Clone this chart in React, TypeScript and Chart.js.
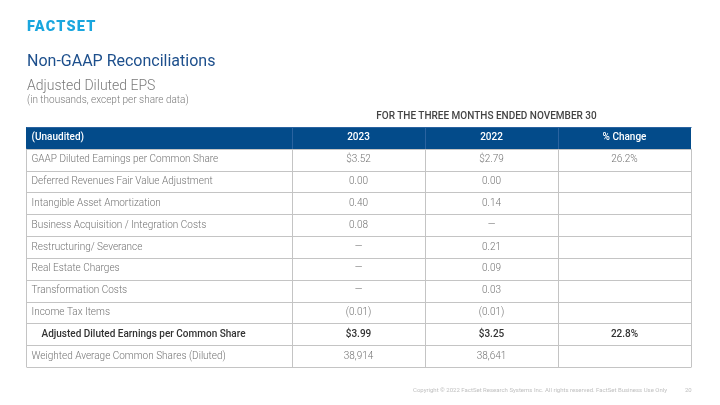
import React, { useEffect, useRef } from "react";
import { Chart, registerables } from "chart.js";

Chart.register(...registerables);

const headerLabels = ["(Unaudited)", "2023", "2022", "% Change"];
const rowLabels = [
  "GAAP Diluted Earnings per Common Share",
  "Deferred Revenues Fair Value Adjustment",
  "Intangible Asset Amortization",
  "Business Acquisition / Integration Costs",
  "Restructuring/ Severance",
  "Real Estate Charges",
  "Transformation Costs",
  "Income Tax Items",
  "Adjusted Diluted Earnings per Common Share",
  "Weighted Average Common Shares (Diluted)",
];
const values2023: (number | null)[] = [3.52, 0.0, 0.4, 0.08, null, null, null, -0.01, 3.99, 38914];
const values2022: (number | null)[] = [2.79, 0.0, 0.14, null, 0.21, 0.09, 0.03, -0.01, 3.25, 38641];
const pctChange: (number | null)[] = [26.2, null, null, null, null, null, null, null, 22.8, null];
const rowFormat = ["usd", "num", "num", "num", "num", "num", "num", "num", "usd", "int"];
const boldRows = [8];
// column spans in scale units: label col = 2, others = 1
const colEdges = [0, 2, 3, 4, 5];

function fmt(v: number | null, kind: string): string {
  if (v === null) return "\u2014";
  if (kind === "int") return v.toLocaleString("en-US");
  const s = Math.abs(v).toFixed(2);
  if (v < 0) return "(" + s + ")";
  return kind === "usd" ? "$" + s : s;
}

const FONT = "Roboto, 'Liberation Sans', sans-serif";

const tablePlugin = {
  id: "tablePlugin",
  afterDatasetsDraw(chart: any) {
    const ctx = chart.ctx;
    const x = chart.scales.x;
    const y = chart.scales.y;
    const area = chart.chartArea;
    const n = chart.data.labels.length;
    const xs = colEdges.map((e) => Math.round(x.getPixelForValue(e)) + 0.5);
    ctx.save();
    ctx.strokeStyle = "#c4c4c4";
    ctx.lineWidth = 1;
    for (let i = 1; i <= n; i++) {
      const yy = Math.round(y.getPixelForValue(i - 0.5)) + 0.5;
      ctx.beginPath();
      ctx.moveTo(xs[0], yy);
      ctx.lineTo(xs[4], yy);
      ctx.stroke();
    }
    const headerBottom = y.getPixelForValue(0.5);
    xs.forEach((px) => {
      ctx.beginPath();
      ctx.moveTo(px, headerBottom);
      ctx.lineTo(px, area.bottom);
      ctx.stroke();
    });
    ctx.strokeStyle = "#2a63a0";
    xs.slice(1, 4).forEach((px) => {
      ctx.beginPath();
      ctx.moveTo(px, area.top);
      ctx.lineTo(px, headerBottom);
      ctx.stroke();
    });
    ctx.beginPath();
    ctx.moveTo(xs[0], area.top + 0.5);
    ctx.lineTo(xs[4], area.top + 0.5);
    ctx.stroke();

    ctx.textBaseline = "middle";
    ctx.fillStyle = "#ffffff";
    ctx.font = "500 10px " + FONT;
    const hy = y.getPixelForValue(0);
    ctx.textAlign = "left";
    ctx.fillText(headerLabels[0], xs[0] + 5, hy);
    ctx.textAlign = "center";
    for (let c = 1; c < 4; c++) {
      ctx.fillText(headerLabels[c], x.getPixelForValue((colEdges[c] + colEdges[c + 1]) / 2), hy);
    }
    rowLabels.forEach((label, i) => {
      const bold = boldRows.includes(i);
      const cy = y.getPixelForValue(i + 1);
      ctx.fillStyle = bold ? "#333333" : "#737373";
      ctx.font = (bold ? "500 " : "300 ") + "10px " + FONT;
      ctx.textAlign = "left";
      ctx.fillText(label, xs[0] + (bold ? 15 : 5), cy);
      ctx.textAlign = "center";
      ctx.fillText(fmt(values2023[i], rowFormat[i]), x.getPixelForValue(2.5), cy);
      ctx.fillText(fmt(values2022[i], rowFormat[i]), x.getPixelForValue(3.5), cy);
      const p = pctChange[i];
      if (p !== null) ctx.fillText(p.toFixed(1) + "%", x.getPixelForValue(4.5), cy);
    });
    ctx.restore();
  },
};

export default function App() {
  const ref = useRef<HTMLCanvasElement | null>(null);
  useEffect(() => {
    if (!ref.current) return;
    const labels = [headerLabels[0], ...rowLabels];
    const headerBar = labels.map((_, i) => (i === 0 ? [0, 5] : null));
    const chart = new Chart(ref.current, {
      type: "bar",
      data: {
        labels,
        datasets: [
          {
            data: headerBar as any,
            backgroundColor: "#034b8a",
            borderWidth: 0,
            barPercentage: 1,
            categoryPercentage: 1,
          },
        ],
      },
      options: {
        indexAxis: "y",
        responsive: false,
        animation: false,
        layout: { padding: { left: 26, right: 29, top: 127, bottom: 38 } },
        scales: {
          x: { type: "linear", min: 0, max: 5, display: false },
          y: { type: "category", display: false },
        },
        plugins: { legend: { display: false }, tooltip: { enabled: false } },
      },
      plugins: [tablePlugin],
    });
    return () => chart.destroy();
  }, []);

  return (
    <div
      style={{
        position: "fixed",
        left: 0,
        top: 0,
        width: 720,
        height: 405,
        background: "#fff",
        fontFamily: FONT,
        overflow: "hidden",
      }}
    >
      <canvas ref={ref} width={720} height={405} style={{ position: "absolute", left: 0, top: 0 }} />
      <div
        style={{
          position: "absolute",
          left: 27,
          top: 19,
          fontSize: 14.5,
          fontWeight: 900,
          color: "#1aa6de",
          letterSpacing: 1.2,
          lineHeight: "16px",
        }}
      >
        FACTSET
      </div>
      <div style={{ position: "absolute", left: 27, top: 51, fontSize: 16, color: "#1d4f8c", lineHeight: "20px" }}>
        Non-GAAP Reconciliations
      </div>
      <div style={{ position: "absolute", left: 27, top: 77, fontSize: 14, color: "#7a7a7a", fontWeight: 300, lineHeight: "17px" }}>
        Adjusted Diluted EPS
      </div>
      <div style={{ position: "absolute", left: 27, top: 94, fontSize: 10, color: "#7a7a7a", fontWeight: 300, lineHeight: "12px" }}>
        (in thousands, except per share data)
      </div>
      <div
        style={{
          position: "absolute",
          left: 282,
          width: 409,
          top: 110,
          textAlign: "center",
          fontSize: 10,
          fontWeight: 500,
          color: "#444",
          lineHeight: "12px",
        }}
      >
        FOR THE THREE MONTHS ENDED NOVEMBER 30
      </div>
      <div style={{ position: "absolute", left: 413, top: 386, fontSize: 6, color: "#c0c0c0", lineHeight: "8px", whiteSpace: "nowrap" }}>
        Copyright © 2022 FactSet Research Systems Inc. All rights reserved. FactSet Business Use Only
      </div>
      <div style={{ position: "absolute", left: 685, top: 386, fontSize: 6, color: "#c0c0c0", lineHeight: "8px" }}>20</div>
    </div>
  );
}
